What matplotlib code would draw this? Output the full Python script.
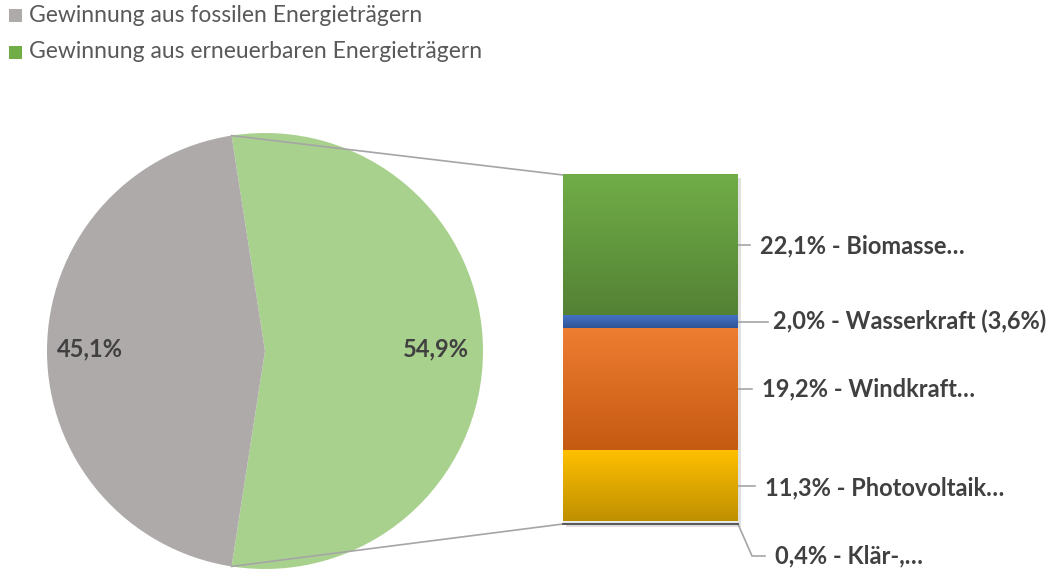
import numpy as np
import matplotlib.pyplot as plt
from matplotlib.colors import LinearSegmentedColormap

# main pie
pie_labels = ["Gewinnung aus erneuerbaren Energieträgern", "Gewinnung aus fossilen Energieträgern"]
pie_values = [54.9, 45.1]
pie_colors = ["#a9d18e", "#aeaaaa"]

# bar of pie (bottom to top)
bar_names = ["Klär-,…", "Photovoltaik…", "Windkraft…", "Wasserkraft (3,6%)", "Biomasse…"]
bar_values = [0.4, 11.3, 19.2, 2.0, 22.1]
bar_top_colors = ["#f2f2f2", "#ffc000", "#ed7d31", "#4472c4", "#70ad47"]
bar_bottom_colors = ["#d9d9d9", "#bf9000", "#c55a11", "#2f5597", "#548235"]

W, H = 1062, 572
plt.rcParams['font.family'] = ['Lato', 'DejaVu Sans']

fig = plt.figure(figsize=(W / 100, H / 100), dpi=100)
ax = fig.add_axes([0, 0, 1, 1])

def py(y):
    # pixel row -> data y
    return H - y

# pie
cx, cy, r = 265, py(351), 218
start = -pie_values[0] / sum(pie_values) * 360 / 2
ax.pie(pie_values, colors=pie_colors, startangle=start, center=(cx, cy),
       radius=r, counterclock=True, frame=True, wedgeprops=dict(linewidth=0))
ax.set_xlim(0, W)
ax.set_ylim(0, H)
ax.set_aspect('equal')
ax.axis('off')

ax.text(436, py(349), "54,9%", ha="center", va="center", fontsize=17,
        fontweight="bold", color="#404040")
ax.text(90, py(349), "45,1%", ha="center", va="center", fontsize=17,
        fontweight="bold", color="#404040")

# bar
bx0, bx1 = 563, 738
by_bot, by_top = py(524), py(175)
scale = (by_top - by_bot) / sum(bar_values)
bottoms = by_bot + scale * np.concatenate([[0], np.cumsum(bar_values)[:-1]])
tops = bottoms + scale * np.array(bar_values)

# shadow
ax.add_patch(plt.Rectangle((bx0 + 3, by_bot - 3), bx1 - bx0, by_top - by_bot,
                           color="#000000", alpha=0.12, zorder=2, lw=0))
for b, t, c0, c1 in zip(bottoms, tops, bar_bottom_colors, bar_top_colors):
    cmap = LinearSegmentedColormap.from_list("g", [c0, c1])
    grad = np.linspace(0, 1, 64).reshape(-1, 1)
    ax.imshow(grad, cmap=cmap, extent=(bx0, bx1, b, t), origin="lower",
              aspect="auto", zorder=3, interpolation="bilinear")
ax.plot([bx0, bx1], [by_bot, by_bot], color="#404040", lw=1.2, zorder=4)
ax.set_xlim(0, W)
ax.set_ylim(0, H)

# connectors from pie to bar
ang = np.deg2rad(-start)
ax.plot([cx + r * np.cos(ang), bx0], [cy + r * np.sin(ang), by_top],
        color="#a5a5a5", lw=1.2, zorder=1)
ax.plot([cx + r * np.cos(ang), bx0], [cy - r * np.sin(ang), by_bot],
        color="#a5a5a5", lw=1.2, zorder=1)

# labels
label_y = [py(556), py(488), py(389), py(321), py(246)]
line_end = [765, 755, 752, 768, 750]
text_x = [775, 765, 762, 773, 760]
for i, (name, val) in enumerate(zip(bar_names, bar_values)):
    mid = (bottoms[i] + tops[i]) / 2
    if i == 0:
        ax.plot([bx1, 752, line_end[i]], [by_bot, label_y[i], label_y[i]],
                color="#a5a5a5", lw=1.2)
    else:
        ax.plot([bx1, line_end[i]], [mid, mid], color="#a5a5a5", lw=1.2)
    txt = f"{val:.1f}".replace(".", ",") + "% - " + name
    ax.text(text_x[i], label_y[i], txt, ha="left", va="center", fontsize=17,
            fontweight="bold", color="#404040")

# legend
leg_y = [15, 52]
for yy, lab, col in zip(leg_y, pie_labels[::-1], ["#aeaaaa", "#70ad47"]):
    ax.add_patch(plt.Rectangle((9, py(yy) - 6.5), 13, 13, color=col, lw=0))
    ax.text(29, py(yy), lab, ha="left", va="center", fontsize=16.5, color="#595959")

fig.savefig("out.png", dpi=100)
